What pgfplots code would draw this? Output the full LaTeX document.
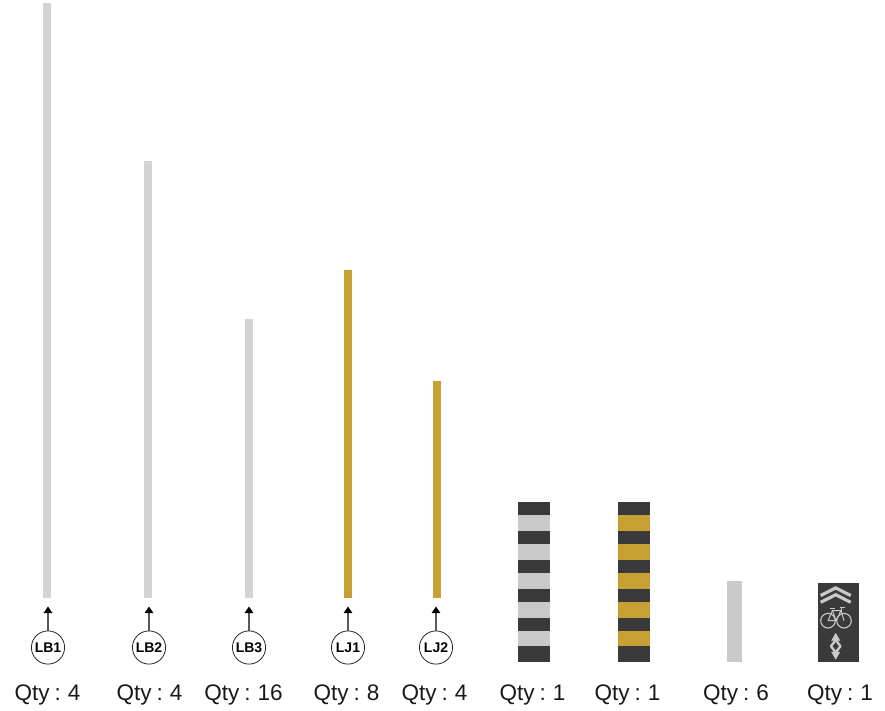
\documentclass[border=0pt]{standalone}
\usepackage{fontspec}
\setmainfont{Liberation Sans}
\usepackage{pgfplots}
\usepackage{pgfplotstable}
\pgfplotsset{compat=1.18}
\usetikzlibrary{arrows.meta}
\definecolor{lg}{HTML}{D3D3D3}
\definecolor{stripeg}{HTML}{C9C9C9}
\definecolor{gold}{HTML}{C6A033}
\definecolor{dk}{HTML}{3A3A3A}
\newcommand{\qtyfont}{\fontsize{22.5}{26}\selectfont\spaceskip=.22em\relax}
\pgfplotsset{pix/.style={
  scale only axis, width=885pt, height=711pt, at={(0,0)}, anchor=south west,
  xmin=0, xmax=885, ymin=0, ymax=711, y dir=reverse,
  hide axis, clip=false,
  every axis plot/.append style={no markers, line cap=butt},
}}
\pgfplotstableread{
x y name
48 647.5 LB1
149 647.5 LB2
249 647.5 LB3
348 647.5 LJ1
436 647.5 LJ2
}\circles
\begin{document}
\begin{tikzpicture}
\useasboundingbox (0,0) rectangle (885pt,711pt);
\begin{axis}[pix]
% Tall marking lines: x, top, bottom
\addplot[lg, line width=8pt] coordinates {(47,3) (47,598)};
\addplot[lg, line width=8pt] coordinates {(148,161) (148,598)};
\addplot[lg, line width=8pt] coordinates {(249,319) (249,598)};
\addplot[gold, line width=8pt] coordinates {(348,270) (348,598)};
\addplot[gold, line width=8pt] coordinates {(437,381) (437,598)};
% Arrows
\foreach \x in {48,149,249,348,436} {
  \edef\temp{\noexpand\addplot[color=black!65, line width=1.1pt, -{Triangle[length=6.5pt,width=8.5pt,color=black]}] coordinates {(\x,631) (\x,606.5)};}
  \temp
}
% Circles
\addplot[only marks, mark=*, mark size=16.6pt, mark options={fill=white, draw=black!85, line width=0.8pt}]
  table[x=x,y=y] {\circles};
% Striped bollards
\addplot[dk, line width=31.7pt] coordinates {(533.8,501.7) (533.8,662.3)};
\addplot[stripeg, line width=31.7pt, forget plot] coordinates {(533.8,515) (533.8,530.7)};
\addplot[stripeg, line width=31.7pt, forget plot] coordinates {(533.8,544) (533.8,559.7)};
\addplot[stripeg, line width=31.7pt, forget plot] coordinates {(533.8,572.7) (533.8,588.7)};
\addplot[stripeg, line width=31.7pt, forget plot] coordinates {(533.8,601.7) (533.8,617.7)};
\addplot[stripeg, line width=31.7pt, forget plot] coordinates {(533.8,630.7) (533.8,646.3)};
\addplot[dk, line width=31.7pt] coordinates {(634.2,501.7) (634.2,662.3)};
\addplot[gold, line width=31.7pt, forget plot] coordinates {(634.2,515) (634.2,530.7)};
\addplot[gold, line width=31.7pt, forget plot] coordinates {(634.2,544) (634.2,559.7)};
\addplot[gold, line width=31.7pt, forget plot] coordinates {(634.2,572.7) (634.2,588.7)};
\addplot[gold, line width=31.7pt, forget plot] coordinates {(634.2,601.7) (634.2,617.7)};
\addplot[gold, line width=31.7pt, forget plot] coordinates {(634.2,630.7) (634.2,646.3)};
% Plain block
\addplot[stripeg, line width=15.7pt] coordinates {(734.5,580.7) (734.5,662)};
% Bicycle panel
\addplot[dk, line width=40.7pt] coordinates {(838.3,583.3) (838.3,662.3)};
\addplot[only marks, mark=*, mark size=7.3pt, mark options={fill=dk, draw=stripeg, line width=1.1pt}]
  coordinates {(828,620.7) (844,620.7)};
\end{axis}
\begin{axis}[pix]
\addplot[stripeg, line width=3.2pt, line join=miter] coordinates {(820.7,595.5) (835.7,587.9) (850.7,595.5)};
\addplot[stripeg, line width=3.2pt, line join=miter] coordinates {(820.7,602.3) (835.7,594.7) (850.7,602.3)};
\addplot[stripeg, line width=1pt] coordinates {(828,620.7) (832.5,610.5) (841,610.5) (844,620.7)};
\addplot[stripeg, line width=1pt] coordinates {(828,620.7) (836,620.7) (841,610.5)};
\addplot[stripeg, line width=1pt] coordinates {(832.5,610.5) (836,620.7)};
\addplot[stripeg, line width=1pt] coordinates {(829.5,608.2) (835,608.2)};
\addplot[stripeg, line width=1pt] coordinates {(840,607.5) (845,607.5)};
\addplot[stripeg, line width=1pt] coordinates {(841,607.5) (841,610.5)};
% Diamond
\addplot[stripeg, fill=stripeg, line width=0.3pt] coordinates {(835.7,633.3) (831.5,640.5) (839.9,640.5)} -- cycle;
\addplot[stripeg, fill=stripeg, line width=0.3pt] coordinates {(835.7,659.3) (831.5,652) (839.9,652)} -- cycle;
\addplot[stripeg, line width=2.4pt, line join=round] coordinates {(835.7,640) (831,646.2) (835.7,652.5) (840.4,646.2)} -- cycle;
% Labels
\addplot[only marks, mark=none, nodes near coords, point meta=explicit symbolic,
  nodes near coords style={anchor=center, text=black, font=\fontsize{14}{16}\selectfont\bfseries}]
  table[x=x,y=y,meta=name] {\circles};
\foreach \x/\t in {47.5/4,149.5/4,243.5/16,346.5/8,434.5/4,532.5/1,627.5/1,736/6,840/1} {
  \edef\temp{\noexpand\node[font=\noexpand\qtyfont, text=black!90] at (axis cs:\x,695) {Qty : \t};}
  \temp
}
\end{axis}
\end{tikzpicture}
\end{document}
